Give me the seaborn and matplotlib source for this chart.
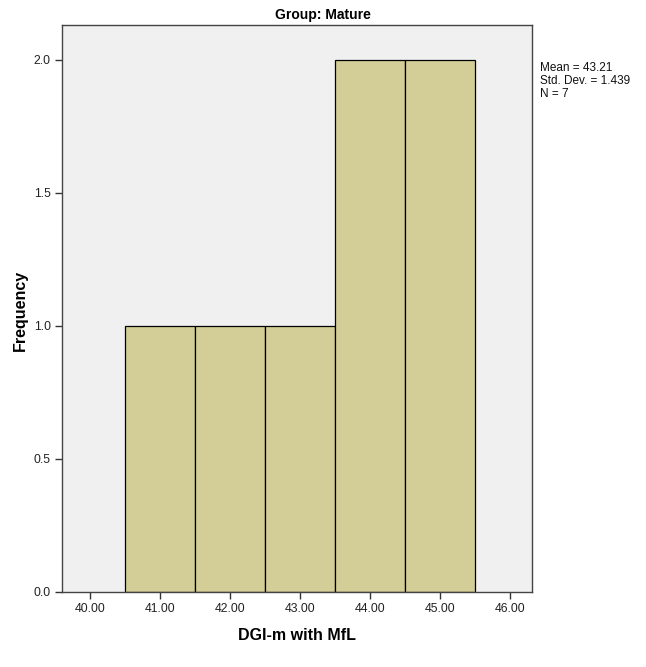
import matplotlib
matplotlib.use("Agg")
import matplotlib.pyplot as plt
import seaborn as sns
import numpy as np

# Data
bin_centers = [41.0, 42.0, 43.0, 44.0, 45.0]
counts = [1, 1, 1, 2, 2]
bin_edges = [40.5, 41.5, 42.5, 43.5, 44.5, 45.5]
x_ticks = [40.0, 41.0, 42.0, 43.0, 44.0, 45.0, 46.0]
y_ticks = [0.0, 0.5, 1.0, 1.5, 2.0]
title = "Group: Mature"
xlabel = "DGI-m with MfL"
ylabel = "Frequency"
stats_lines = ["Mean = 43.21", "Std. Dev. = 1.439", "N = 7"]

sns.set_style("white")
plt.rcParams['font.family'] = ['Liberation Sans Narrow', 'Liberation Sans', 'DejaVu Sans']

fig = plt.figure(figsize=(6.46, 6.67), dpi=100)
ax = fig.add_axes([62/646, 1 - 592/667, (532-62)/646, (592-25)/667])
ax.set_facecolor("#F0F0F0")

sns.histplot(x=bin_centers, weights=counts, bins=bin_edges, ax=ax,
             color="#D3CE97", edgecolor="black", linewidth=0.9, alpha=1.0)

ax.set_xlim(39.6, 46.31)
ax.set_ylim(0, 2.13)
ax.set_xticks(x_ticks)
ax.set_xticklabels([f"{v:.2f}" for v in x_ticks], fontsize=8.8, color="#222222")
ax.set_yticks(y_ticks)
ax.set_yticklabels([f"{v:.1f}" for v in y_ticks], fontsize=8.8, color="#222222")
ax.tick_params(axis='both', which='major', direction='out', length=5, width=1.0,
               color="#333333", bottom=True, left=True, top=False, right=False, pad=3)
for s in ax.spines.values():
    s.set_visible(True)
    s.set_color("#444444")
    s.set_linewidth(1.0)

ax.set_xlabel(xlabel, fontsize=11.5, fontweight='bold', color="black",
              family=['Liberation Sans', 'DejaVu Sans'])
ax.xaxis.set_label_coords((297-62)/470, -(628-592)/567)
ax.set_ylabel(ylabel, fontsize=11.5, fontweight='bold', color="black",
              family=['Liberation Sans', 'DejaVu Sans'])
ax.yaxis.set_label_coords(-(62-28)/470, (592-310)/567)

fig.text(0.5, 1 - 15/667, title, ha='center', va='center', fontsize=10,
         fontweight='bold', color="black")

for i, line in enumerate(stats_lines):
    fig.text(540/646, 1 - (68 + i*13)/667, line, ha='left', va='center',
             fontsize=8.5, color="#111111")

fig.savefig("out.png", dpi=100)
